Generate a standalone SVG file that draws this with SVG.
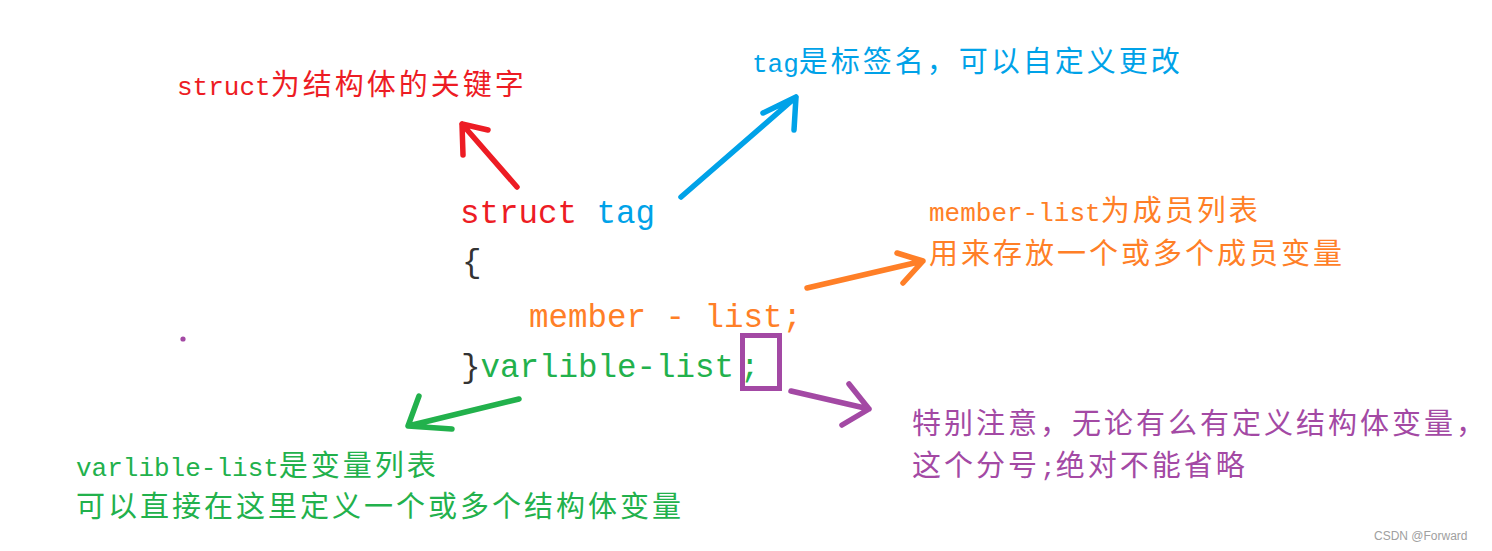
<svg xmlns="http://www.w3.org/2000/svg" width="1492" height="551" viewBox="0 0 1492 551">
<style>
.lat{font-family:"Liberation Mono","DejaVu Sans Mono",monospace;font-size:26px}
.cjk{font-family:"Noto Sans CJK SC","Noto Sans",sans-serif;font-size:29px;letter-spacing:3px}
.code{font-family:"Liberation Mono","DejaVu Sans Mono",monospace;font-size:32.5px}
.red{fill:#ED1C24}.blue{fill:#00A2E8}.orange{fill:#FF7F27}.green{fill:#22B14C}.purple{fill:#A349A4}.dark{fill:#333333}
.arr{fill:none;stroke-width:5.5;stroke-linecap:round;stroke-linejoin:round}
.s-red{stroke:#ED1C24}.s-blue{stroke:#00A2E8}.s-orange{stroke:#FF7F27}.s-green{stroke:#22B14C}.s-purple{stroke:#A349A4}
.wm{font-family:"Liberation Sans",Arial,sans-serif;font-size:12px;fill:#a0a0a0}
</style>
<rect width="1492" height="551" fill="#ffffff"/>

<g id="code">
<text class="code" x="460" y="223"><tspan class="red">struct</tspan><tspan class="blue" xml:space="preserve"> tag</tspan></text>
<text class="code dark" x="462" y="272">{</text>
<text class="code orange" x="529" y="327" xml:space="preserve">member - list;</text>
<text class="code" x="461" y="377"><tspan class="dark">}</tspan><tspan class="green">varlible-list</tspan><tspan class="green" dx="6">;</tspan></text>
<rect x="742.5" y="335.5" width="37" height="53" fill="none" stroke="#A349A4" stroke-width="5"/>
</g>

<g id="label-struct">
<text class="red" x="177" y="95"><tspan class="lat">struct</tspan><tspan class="cjk">为结构体的关键字</tspan></text>
</g>

<g id="label-tag">
<text class="blue" x="752" y="72"><tspan class="lat">tag</tspan><tspan class="cjk">是标签名，可以自定义更改</tspan></text>
</g>

<g id="label-member">
<text class="orange" x="929" y="221"><tspan class="lat">member-list</tspan><tspan class="cjk">为成员列表</tspan></text>
<text class="orange" x="929" y="264"><tspan class="cjk">用来存放一个或多个成员变量</tspan></text>
</g>

<g id="label-varlible">
<text class="green" x="76" y="476"><tspan class="lat">varlible-list</tspan><tspan class="cjk">是变量列表</tspan></text>
<text class="green" x="76" y="517"><tspan class="cjk">可以直接在这里定义一个或多个结构体变量</tspan></text>
</g>

<g id="label-semicolon">
<text class="purple" x="912" y="434"><tspan class="cjk">特别注意，无论有么有定义结构体变量，</tspan></text>
<text class="purple" x="912" y="476"><tspan class="cjk">这个分号</tspan><tspan class="lat">;</tspan><tspan class="cjk">绝对不能省略</tspan></text>
</g>

<g id="dot">
<circle cx="183" cy="339" r="2.6" fill="#A349A4"/>
</g>

<g id="connectors">
<path class="arr s-red" d="M517 187 L462 124 M488 130 L462 124 L463 155"/>
<path class="arr s-blue" d="M681 197 L796 97 M763 113 L796 97 L794 130"/>
<path class="arr s-orange" d="M807 288 L923 261 M897 253 L923 261 L903 283"/>
<path class="arr s-green" d="M519 399 L408 426 M419 396 L408 426 L452 429"/>
<path class="arr s-purple" d="M791 391 L869 409 M849 384 L869 409 L842 425"/>
</g>

<g id="watermark">
<text class="wm" x="1374" y="540">CSDN @Forward</text>
</g>
</svg>
